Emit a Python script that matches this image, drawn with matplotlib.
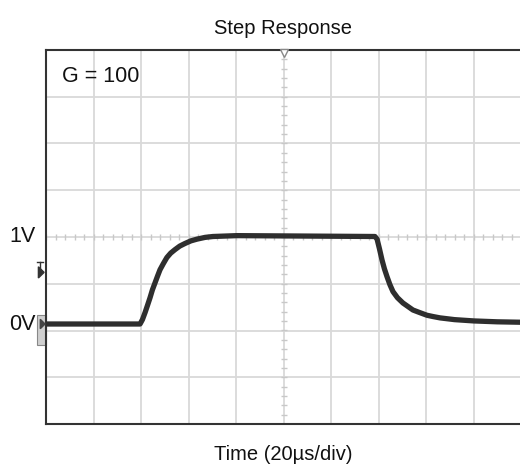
"""Step response scope capture, redrawn"""
import matplotlib
matplotlib.use('Agg')
import matplotlib.pyplot as plt
import matplotlib.transforms as mtransforms
from matplotlib.patches import Rectangle, Polygon
import numpy as np

plt.rcParams['font.family'] = ['Liberation Sans', 'DejaVu Sans']

# trace (20us/div, 10 divs)
time_us = [0, 39.6, 40.6, 41.7, 42.7, 43.8, 44.8, 45.9, 47.0, 48.0, 49.4, 50.9,
           52.5, 54.3, 56.3, 58.5, 61.0, 63.6, 67.0, 70.3, 80.4,
           138.5, 139.4, 140.4, 141.5, 142.5, 143.6, 144.8, 146.1, 148.0, 150.3,
           152.4, 154.5, 157.4, 160.4, 163.0, 165.9, 172.0, 180.2, 190.0, 200]
volts = [0, 0, 0.05, 0.13, 0.21, 0.30, 0.39, 0.47, 0.55, 0.62, 0.69, 0.76,
         0.81, 0.85, 0.89, 0.92, 0.95, 0.97, 0.99, 1.0, 1.01,
         1.0, 0.97, 0.86, 0.73, 0.63, 0.54, 0.45, 0.37, 0.30, 0.24,
         0.20, 0.16, 0.13, 0.10, 0.085, 0.07, 0.05, 0.035, 0.025, 0.02]
level_labels = ['0V', '1V']
level_values = [0, 1]

us_per_div = 20
div_per_volt = 87.5 / 46.75
zero_div = -1.861   # 0V sits below the centre line


def to_div(v):
    return zero_div + np.asarray(v) * div_per_volt


fig = plt.figure(figsize=(5.2, 4.7), dpi=100)
ax = fig.add_axes([46 / 520, 46 / 470, 475 / 520, 374 / 470])
ax.set_xlim(0, 10)
ax.set_ylim(-4, 4)

# graticule
for gx in range(1, 10):
    ax.axvline(gx, color='#d9d9d9', lw=1.3, zorder=1)
for gy in range(-3, 4):
    ax.axhline(gy, color='#d9d9d9', lw=1.3, zorder=1)
minor = np.arange(-5, 5.01, 0.2)
ax.plot(minor + 5, np.zeros_like(minor), linestyle='none', marker='|',
        ms=5, color='#c8c8c8', mew=1, zorder=1)
minor_y = np.arange(-4, 4.01, 0.2)
ax.plot(np.full_like(minor_y, 5), minor_y, linestyle='none', marker='_',
        ms=5, color='#c8c8c8', mew=1, zorder=1)

# trace
x = np.asarray(time_us) / us_per_div
ax.plot(x, to_div(volts), color='#2e2e2e', lw=3.8, solid_capstyle='butt',
        solid_joinstyle='round', zorder=3)

ax.set_xticks([])
ax.set_yticks([])
for side in ['left', 'top', 'bottom']:
    ax.spines[side].set_color('#333333')
    ax.spines[side].set_linewidth(1.5)
ax.spines['right'].set_visible(False)

# trigger position marker on top edge
ax.plot([5], [3.93], marker='v', ms=6, mfc='white', mec='#888888', mew=1,
        clip_on=False, zorder=4)

ax.text(0.034, 0.93, 'G = 100', transform=ax.transAxes, fontsize=15.5,
        va='center', ha='left', color='#111111')

# level labels left of the screen
trans = mtransforms.blended_transform_factory(fig.transFigure, ax.transData)
for lbl, val in zip(level_labels, level_values):
    fig.text(36 / 520, to_div(val), lbl, transform=trans, fontsize=15.5,
             ha='right', va='center', color='#111111')

# trigger level and ground markers on the left edge
tlev = mtransforms.blended_transform_factory(ax.transAxes, ax.transData)
y_trig = to_div(0.59)
ax.plot([-0.018, -0.006], [y_trig + 0.22, y_trig + 0.22], color='#333333',
        lw=1, transform=tlev, clip_on=False)
ax.plot([-0.012, -0.012], [y_trig + 0.22, y_trig], color='#333333',
        lw=1, transform=tlev, clip_on=False)
ax.add_patch(Polygon([[-0.016, y_trig + 0.12], [-0.016, y_trig - 0.12], [-0.004, y_trig]],
                     closed=True, color='#333333', transform=tlev, clip_on=False))
ax.add_patch(Rectangle((-0.02, to_div(0) - 0.45), 0.02, 0.65, transform=tlev,
                       facecolor='#cfcfcf', edgecolor='#888888', lw=0.8,
                       clip_on=False, zorder=2))
ax.add_patch(Polygon([[-0.012, to_div(0) + 0.1], [-0.012, to_div(0) - 0.1], [-0.002, to_div(0)]],
                     closed=True, color='#444444', transform=tlev, clip_on=False, zorder=3))

fig.text(283 / 520, 1 - 28 / 470, 'Step Response', fontsize=14.5, ha='center',
         va='center', color='#111111')
fig.text(283 / 520, 1 - 455 / 470, 'Time (20µs/div)', fontsize=14.5,
         ha='center', va='center', color='#111111')

fig.savefig('out.png', dpi=100)
